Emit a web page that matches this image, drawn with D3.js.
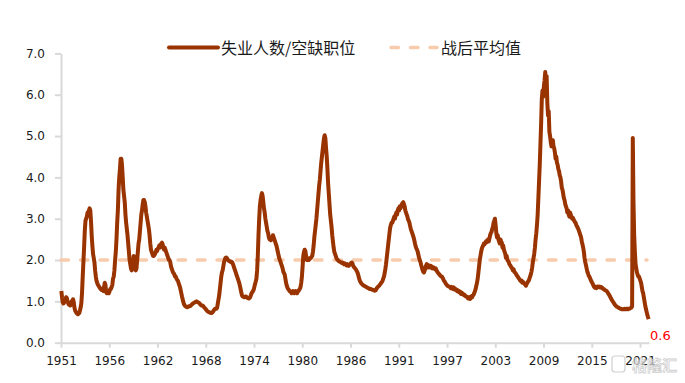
<!DOCTYPE html>
<html><head><meta charset="utf-8">
<script src="https://cdn.jsdelivr.net/npm/d3@7"></script>
<style>
body{margin:0;background:#fff;}
svg{display:block;}
</style>
</head><body>
<svg id="chart" width="685" height="383"></svg>
<script>
// ---- data (monthly, Jan 1951 onward) ----
const startYear = 1951;
const ratio = [
/*1951*/1.25,1.10,0.98,0.95,0.97,1.00,1.05,1.10,1.08,1.00,0.95,0.92,
/*1952*/0.92,0.90,0.95,1.00,1.02,1.05,0.98,0.85,0.78,0.75,0.72,0.70,
/*1953*/0.69,0.70,0.72,0.78,0.85,0.95,1.20,1.60,1.95,2.30,2.70,2.95,
/*1954*/3.00,3.05,3.15,3.10,3.20,3.25,3.20,2.95,2.60,2.35,2.15,2.05,
/*1955*/1.95,1.75,1.60,1.50,1.45,1.40,1.38,1.35,1.32,1.30,1.28,1.30,
/*1956*/1.28,1.25,1.35,1.45,1.40,1.22,1.20,1.25,1.22,1.20,1.25,1.30,
/*1957*/1.30,1.35,1.40,1.55,1.60,1.75,2.00,2.20,2.50,2.90,3.20,3.70,
/*1958*/4.00,4.20,4.45,4.45,4.30,4.00,3.70,3.55,3.40,3.10,2.90,2.75,
/*1959*/2.60,2.40,2.20,2.00,1.90,1.80,1.75,1.85,1.95,2.10,2.05,1.80,
/*1960*/1.75,1.80,2.00,2.20,2.40,2.50,2.70,2.90,3.10,3.20,3.35,3.45,
/*1961*/3.45,3.40,3.30,3.15,3.05,2.95,2.85,2.75,2.60,2.40,2.25,2.20,
/*1962*/2.15,2.10,2.10,2.12,2.15,2.20,2.25,2.22,2.28,2.30,2.35,2.30,
/*1963*/2.35,2.40,2.42,2.38,2.30,2.25,2.30,2.25,2.20,2.15,2.10,2.05,
/*1964*/2.00,2.00,1.95,1.85,1.80,1.75,1.70,1.68,1.65,1.60,1.60,1.55,
/*1965*/1.52,1.50,1.45,1.40,1.35,1.28,1.20,1.12,1.05,0.98,0.93,0.90,
/*1966*/0.88,0.87,0.86,0.86,0.87,0.88,0.88,0.89,0.90,0.92,0.94,0.95,
/*1967*/0.96,0.97,0.98,0.99,1.00,0.99,0.98,0.97,0.96,0.94,0.92,0.90,
/*1968*/0.90,0.90,0.88,0.86,0.84,0.82,0.80,0.78,0.76,0.75,0.74,0.73,
/*1969*/0.73,0.72,0.72,0.73,0.75,0.78,0.80,0.82,0.82,0.82,0.85,0.95,
/*1970*/1.05,1.15,1.30,1.45,1.60,1.70,1.75,1.85,1.95,2.00,2.05,2.06,
/*1971*/2.05,2.02,2.00,1.98,1.97,1.97,1.95,1.96,1.94,1.90,1.85,1.80,
/*1972*/1.75,1.70,1.65,1.60,1.55,1.50,1.45,1.38,1.30,1.22,1.15,1.12,
/*1973*/1.12,1.10,1.10,1.12,1.12,1.10,1.08,1.08,1.07,1.08,1.10,1.15,
/*1974*/1.20,1.22,1.25,1.28,1.35,1.42,1.48,1.55,1.75,2.10,2.60,3.00,
/*1975*/3.30,3.45,3.55,3.62,3.55,3.40,3.25,3.15,3.00,2.90,2.80,2.70,
/*1976*/2.65,2.55,2.50,2.50,2.48,2.50,2.55,2.60,2.55,2.50,2.45,2.40,
/*1977*/2.35,2.28,2.20,2.12,2.05,2.00,1.95,1.90,1.85,1.80,1.72,1.68,
/*1978*/1.65,1.55,1.45,1.38,1.33,1.30,1.28,1.25,1.24,1.22,1.20,1.22,
/*1979*/1.25,1.22,1.20,1.23,1.25,1.22,1.20,1.24,1.25,1.28,1.30,1.35,
/*1980*/1.45,1.60,1.85,2.10,2.20,2.25,2.22,2.10,2.00,2.02,2.04,2.00,
/*1981*/2.02,2.05,2.05,2.08,2.10,2.20,2.35,2.55,2.70,2.85,3.00,3.20,
/*1982*/3.40,3.60,3.80,3.95,4.15,4.35,4.50,4.65,4.80,4.95,5.02,4.95,
/*1983*/4.70,4.50,4.20,3.85,3.60,3.35,3.10,2.95,2.80,2.60,2.45,2.30,
/*1984*/2.20,2.15,2.10,2.05,2.02,2.00,1.98,1.97,1.96,1.95,1.94,1.93,
/*1985*/1.94,1.92,1.90,1.92,1.90,1.88,1.87,1.90,1.88,1.86,1.88,1.90,
/*1986*/1.92,1.94,1.93,1.88,1.84,1.82,1.80,1.78,1.75,1.72,1.68,1.62,
/*1987*/1.55,1.50,1.47,1.44,1.42,1.40,1.39,1.38,1.37,1.36,1.35,1.34,
/*1988*/1.33,1.32,1.32,1.30,1.30,1.30,1.29,1.28,1.28,1.27,1.26,1.26,
/*1989*/1.27,1.30,1.33,1.35,1.36,1.38,1.40,1.42,1.45,1.47,1.50,1.55,
/*1990*/1.60,1.68,1.78,1.90,2.05,2.20,2.35,2.50,2.65,2.78,2.85,2.90,
/*1991*/2.90,2.95,3.00,3.05,3.00,3.10,3.15,3.10,3.20,3.25,3.20,3.30,
/*1992*/3.25,3.30,3.35,3.38,3.40,3.35,3.30,3.20,3.15,3.10,3.05,2.98,
/*1993*/2.95,2.90,2.82,2.75,2.70,2.65,2.60,2.55,2.48,2.40,2.33,2.28,
/*1994*/2.25,2.20,2.12,2.05,2.00,1.95,1.88,1.82,1.76,1.72,1.70,1.74,
/*1995*/1.80,1.86,1.90,1.85,1.82,1.87,1.85,1.82,1.86,1.84,1.80,1.83,
/*1996*/1.82,1.80,1.78,1.80,1.76,1.73,1.70,1.68,1.66,1.64,1.62,1.60,
/*1997*/1.60,1.57,1.54,1.50,1.48,1.45,1.42,1.40,1.38,1.37,1.36,1.35,
/*1998*/1.34,1.32,1.35,1.33,1.30,1.34,1.32,1.28,1.30,1.27,1.25,1.27,
/*1999*/1.25,1.22,1.24,1.20,1.18,1.21,1.19,1.17,1.15,1.16,1.13,1.12,
/*2000*/1.12,1.10,1.07,1.08,1.10,1.06,1.08,1.12,1.10,1.14,1.16,1.20,
/*2001*/1.25,1.30,1.38,1.45,1.55,1.70,1.85,2.00,2.10,2.20,2.28,2.32,
/*2002*/2.35,2.40,2.38,2.42,2.45,2.43,2.47,2.50,2.45,2.52,2.60,2.65,
/*2003*/2.68,2.75,2.80,2.90,2.95,3.00,2.85,2.65,2.55,2.60,2.50,2.45,
/*2004*/2.40,2.50,2.45,2.42,2.30,2.35,2.25,2.20,2.15,2.05,2.10,2.00,
/*2005*/1.98,1.95,1.90,1.88,1.85,1.82,1.80,1.75,1.78,1.72,1.70,1.68,
/*2006*/1.65,1.62,1.60,1.57,1.55,1.52,1.50,1.48,1.50,1.45,1.47,1.44,
/*2007*/1.42,1.40,1.38,1.42,1.45,1.48,1.50,1.55,1.60,1.65,1.72,1.82,
/*2008*/1.95,2.05,2.15,2.30,2.50,2.65,2.85,3.10,3.50,3.90,4.30,4.80,
/*2009*/5.30,5.90,6.10,5.95,6.20,6.35,6.55,6.20,6.45,5.80,5.50,5.60,
/*2010*/5.10,5.00,4.85,4.75,4.80,4.90,4.75,4.70,4.60,4.45,4.50,4.35,
/*2011*/4.30,4.20,4.15,4.05,4.00,3.90,3.75,3.70,3.60,3.50,3.45,3.35,
/*2012*/3.30,3.25,3.15,3.20,3.10,3.05,3.15,3.10,3.05,3.00,3.02,2.98,
/*2013*/2.95,2.92,2.90,2.85,2.82,2.78,2.75,2.70,2.65,2.60,2.55,2.45,
/*2014*/2.38,2.30,2.20,2.05,1.95,1.88,1.80,1.72,1.68,1.62,1.60,1.56,
/*2015*/1.52,1.48,1.45,1.42,1.38,1.35,1.33,1.35,1.32,1.33,1.36,1.35,
/*2016*/1.36,1.34,1.35,1.33,1.34,1.32,1.30,1.30,1.28,1.27,1.26,1.25,
/*2017*/1.23,1.20,1.18,1.15,1.12,1.08,1.05,1.02,1.00,0.97,0.95,0.92,
/*2018*/0.90,0.88,0.87,0.86,0.85,0.84,0.83,0.82,0.82,0.81,0.81,0.81,
/*2019*/0.81,0.82,0.81,0.81,0.82,0.82,0.81,0.82,0.82,0.83,0.84,0.85,
/*2020*/0.88,4.95,3.40,2.60,2.20,1.90,1.80,1.70,1.65,1.60,1.60,1.55,
/*2021*/1.50,1.45,1.35,1.25,1.20,1.10,1.00,0.90,0.82,0.75,0.68,0.62,
/*2022*/0.57
];
const postwarAvg = 2.0;
const yTicks = [0, 1, 2, 3, 4, 5, 6, 7];
const tickEvery = 70;            // months between x-axis labels
const seriesNames = ["失业人数/空缺职位", "战后平均值"];
const lastValueLabel = "0.6";
const watermark = "格隆汇";

// ---- chart ----
const svg = d3.select("#chart");
const months = ratio.map((v, i) => {
  const yr = startYear + Math.floor(i / 12);
  return yr + "-" + String(i % 12 + 1).padStart(2, "0");
});
const data = ratio.map((v, i) => ({ m: months[i], v }));

const x = d3.scaleBand().domain(months).range([61, 649]);
const y = d3.scaleLinear().domain([0, 7]).range([342.7, 53.4]);
const axisColor = "#d9d9d9";
const font = "'DejaVu Sans', sans-serif";

// y axis
const yAxis = svg.append("g").attr("transform", "translate(61,0)")
  .call(d3.axisLeft(y).tickValues(yTicks).tickFormat(d3.format(".1f")).tickSize(6).tickPadding(10).tickSizeOuter(0));
yAxis.select(".domain").attr("stroke", axisColor).attr("stroke-width", 2);
yAxis.selectAll(".tick line").attr("stroke", axisColor).attr("stroke-width", 2);
yAxis.selectAll(".tick text").attr("fill", "#1a1a1a").style("font-family", font).style("font-size", "12px");

// x axis
const xAxis = svg.append("g").attr("transform", "translate(0,342.7)")
  .call(d3.axisBottom(x)
    .tickValues(months.filter((d, i) => i % tickEvery === 0))
    .tickFormat(d => d.slice(0, 4))
    .tickSize(5).tickPadding(9).tickSizeOuter(0));
xAxis.select(".domain").attr("stroke", axisColor).attr("stroke-width", 2);
xAxis.selectAll(".tick line").attr("stroke", axisColor).attr("stroke-width", 2);
xAxis.selectAll(".tick text").attr("fill", "#1a1a1a").style("font-family", font).style("font-size", "12px");

// average line
const xr = x.range();
svg.append("line")
  .attr("x1", xr[0]).attr("x2", xr[1] - 2)
  .attr("y1", y(postwarAvg)).attr("y2", y(postwarAvg))
  .attr("stroke", "#f8cbad").attr("stroke-width", 3.5)
  .attr("stroke-dasharray", "7.5,12").attr("stroke-linecap", "round");

// main series
const line = d3.line()
  .x(d => x(d.m) + x.bandwidth() / 2)
  .y(d => y(d.v));
svg.append("path").datum(data)
  .attr("d", line)
  .attr("fill", "none")
  .attr("stroke", "#993300")
  .attr("stroke-width", 4)
  .attr("stroke-linejoin", "round");

// last value label
svg.append("text")
  .attr("x", 650).attr("y", 340)
  .attr("fill", "#ff0000")
  .style("font-family", font).style("font-size", "13px")
  .text(lastValueLabel);

// legend
const lg = svg.append("g");
lg.append("line").attr("x1", 169).attr("x2", 218).attr("y1", 47.5).attr("y2", 47.5)
  .attr("stroke", "#993300").attr("stroke-width", 4).attr("stroke-linecap", "round");
lg.append("text").attr("x", 221).attr("y", 54)
  .style("font-family", "'Noto Sans CJK SC', sans-serif").style("font-size", "16px").attr("fill", "#1a1a1a")
  .text(seriesNames[0]);
lg.append("line").attr("x1", 391).attr("x2", 437).attr("y1", 47.5).attr("y2", 47.5)
  .attr("stroke", "#f8cbad").attr("stroke-width", 3.5)
  .attr("stroke-dasharray", "7.5,12").attr("stroke-linecap", "round");
lg.append("text").attr("x", 441).attr("y", 54)
  .style("font-family", "'Noto Sans CJK SC', sans-serif").style("font-size", "16px").attr("fill", "#1a1a1a")
  .text(seriesNames[1]);

// watermark
const wm = svg.append("g").attr("opacity", 0.85);
wm.append("rect").attr("x", 612).attr("y", 356).attr("width", 13).attr("height", 16).attr("rx", 3)
  .attr("fill", "#fff").attr("fill-opacity", 0.7).attr("stroke", "#c8c8c8").attr("stroke-width", 1.2);
wm.append("text").attr("x", 632).attr("y", 371)
  .style("font-family", "'Noto Sans CJK SC', sans-serif").style("font-size", "15px").style("font-weight", "bold")
  .attr("fill", "#fff").attr("fill-opacity", 0.7).attr("stroke", "#c8c8c8").attr("stroke-width", 0.8)
  .text(watermark);
</script>
</body></html>
